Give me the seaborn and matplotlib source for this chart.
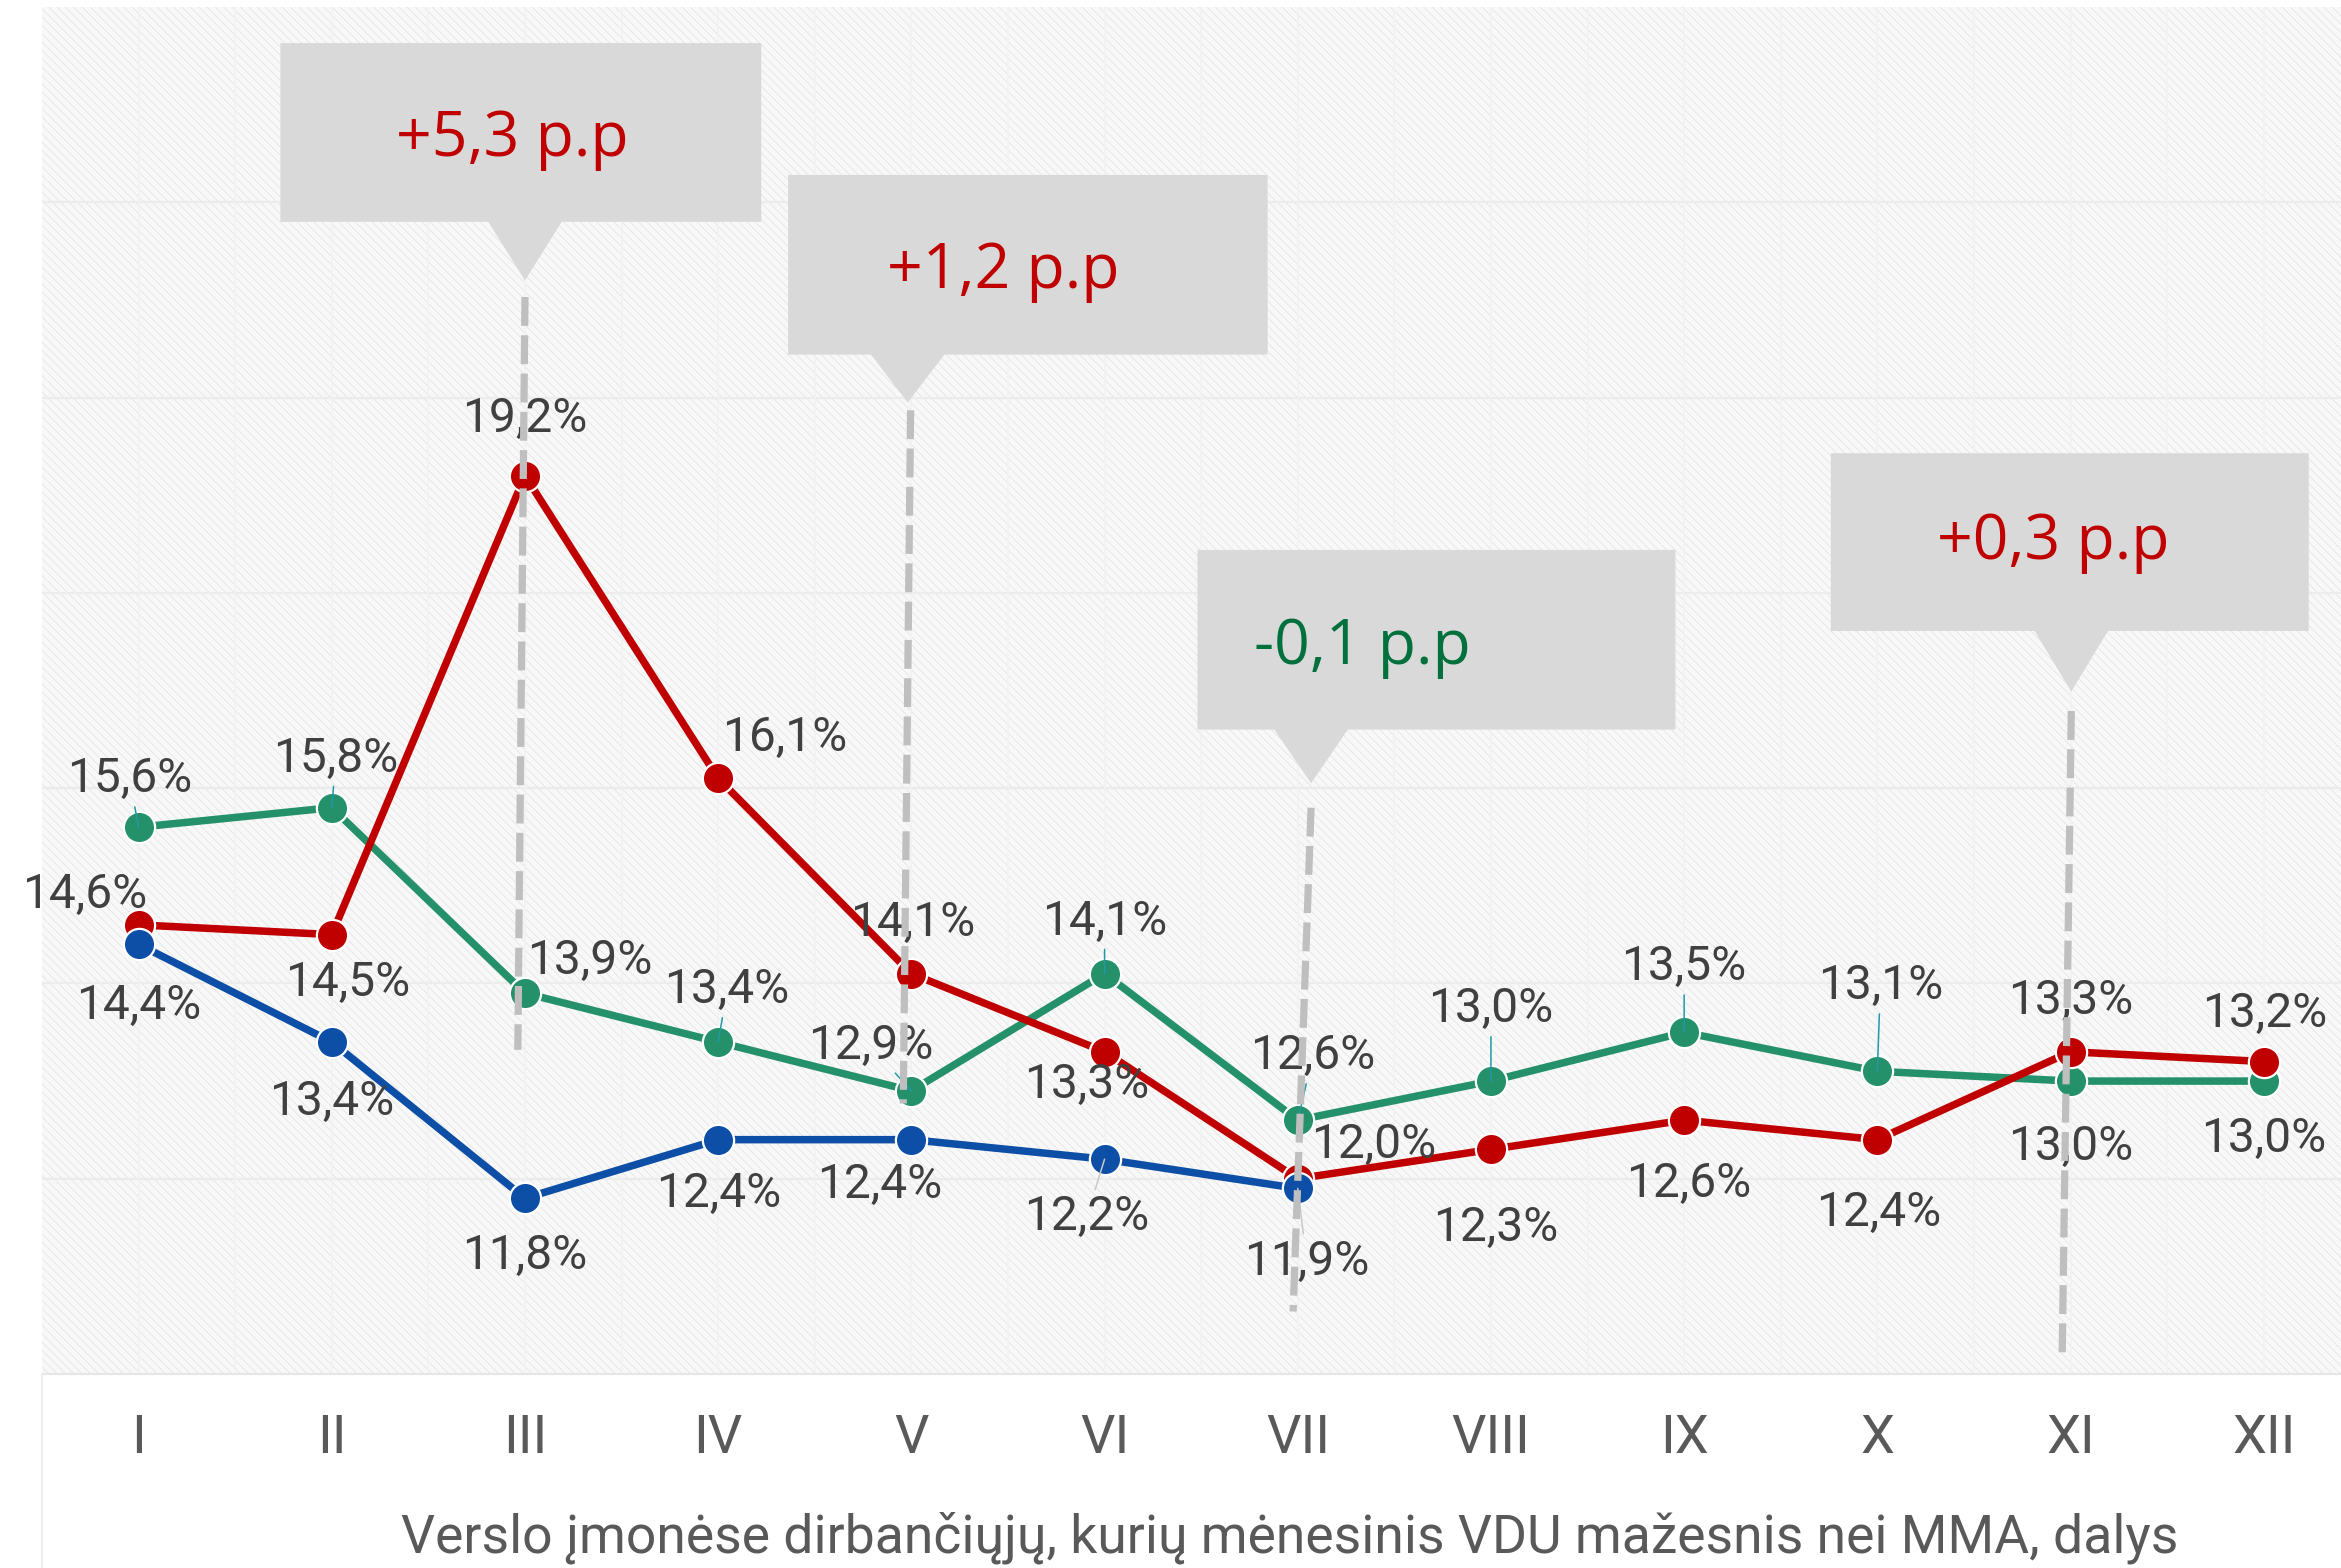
import matplotlib
matplotlib.use("Agg")
import matplotlib.pyplot as plt
import seaborn as sns
import pandas as pd
import numpy as np
from matplotlib.patches import Rectangle, Polygon
from matplotlib.lines import Line2D

# ---------------- data ----------------
months = ["I", "II", "III", "IV", "V", "VI", "VII", "VIII", "IX", "X", "XI", "XII"]
green_vals = [15.6, 15.8, 13.9, 13.4, 12.9, 14.1, 12.6, 13.0, 13.5, 13.1, 13.0, 13.0]
red_vals = [14.6, 14.5, 19.2, 16.1, 14.1, 13.3, 12.0, 12.3, 12.6, 12.4, 13.3, 13.2]
blue_vals = [14.4, 13.4, 11.8, 12.4, 12.4, 12.2, 11.9, np.nan, np.nan, np.nan, np.nan, np.nan]

callout_texts = ["+5,3 p.p", "+1,2 p.p", "-0,1 p.p", "+0,3 p.p"]
xlabel_text = "Verslo įmonėse dirbančiųjų, kurių mėnesinis VDU mažesnis nei MMA, dalys"

# ---------------- style / layout ----------------
W, H = 2341, 1568
GREEN, RED, BLUE = "#25916a", "#c00000", "#0d4ea6"
LABEL_COL = "#404040"
TICK_COL = "#595959"

# label offsets in pixels (dx, dy with dy positive = down)
green_off = [(-9, -48), (4, -49), (65, -32), (9, -52), (-41, -45), (0, -52),
             (15, -64), (0, -72), (0, -65), (3, -85), (0, 66), (0, 58)]
red_off = [(-54, -30), (16, 48), (0, -57), (67, -40), (1, -51), (-18, 33),
           (76, -34), (5, 79), (5, 64), (1, 73), (0, -51), (1, -48)]
blue_off = [(0, 62), (0, 60), (0, 58), (1, 54), (-32, 45), (-18, 58), (9, 73)]
green_leader = [True, True, False, True, True, True, True, True, True, True, False, False]
blue_leader = [False, False, False, False, False, True, True]

# callout geometry (data coords): x0, x1, ytop, ybot, tipx, tipy
callout_geom = [
    (0.734, 3.223, 23.63, 21.80, 2.000, 21.20),
    (3.362, 5.844, 22.28, 20.44, 3.981, 19.95),
    (5.481, 7.955, 18.44, 16.60, 6.069, 16.05),
    (8.759, 11.233, 19.43, 17.61, 10.004, 16.99),
]
callout_textpos = [(1.932, 22.64), (4.476, 21.29), (6.332, 17.44), (9.911, 18.51)]
callout_colors = [RED, RED, "#00703c", RED]
dash_lines = [
    ((2.000, 21.03), (1.963, 13.32)),
    ((3.996, 19.87), (3.958, 12.77)),
    ((6.069, 15.80), (5.976, 10.64)),
    ((10.004, 16.79), (9.957, 10.22)),
]

sns.set_theme(style="white")
plt.rcParams["font.family"] = ["Roboto", "DejaVu Sans"]
plt.rcParams["hatch.linewidth"] = 0.5
plt.rcParams["hatch.color"] = "#e1e1e1"

fig = plt.figure(figsize=(W / 100, H / 100), dpi=100)
fig.patch.set_facecolor("white")
ax_left = 42 / W
ax_bottom = 1 - 1374 / H
ax_top = 1 - 7 / H
ax = fig.add_axes([ax_left, ax_bottom, 1 - ax_left, ax_top - ax_bottom])

# hatched background
ax.set_facecolor("white")
ax.add_patch(Rectangle((0, 0), 1, 1, transform=ax.transAxes, facecolor="#f8f8f8",
                       edgecolor="#e1e1e1", hatch="\\\\\\\\", linewidth=0, zorder=0.1))

# data frame
n = len(months)
df = pd.DataFrame({
    "idx": list(range(n)) * 3,
    "value": green_vals + red_vals + blue_vals,
    "series": ["green"] * n + ["red"] * n + ["blue"] * n,
})
df = df.dropna()

sns.lineplot(data=df, x="idx", y="value", hue="series",
             palette={"green": GREEN, "red": RED, "blue": BLUE},
             hue_order=["green", "red", "blue"],
             marker="o", markersize=22.5, markeredgecolor="white", markeredgewidth=1.6,
             linewidth=5.4, legend=False, sort=False, ax=ax, zorder=3)

ax.grid(False)
for yv in np.arange(12, 24, 2):
    ax.axhline(yv, color="#ececec", lw=1.6, zorder=0.5)
for xv in np.arange(0, 11.5, 0.5):
    ax.axvline(xv, color="#f2f2f2", lw=1.2, zorder=0.5)

ax.set_xticks(range(n))
ax.set_xticklabels(months, fontsize=39, color=TICK_COL)
ax.tick_params(axis="x", length=0, pad=28)
ax.set_yticks([])
ax.set_xlim(-0.5, 11.4)
ax.set_ylim(10, 24)
ax.set_xlabel("")
ax.set_ylabel("")
for s in ["top", "left", "right"]:
    ax.spines[s].set_visible(False)
ax.spines["bottom"].set_color("#e6e6e6")
ax.spines["bottom"].set_linewidth(1.5)

# data labels
def fmt(v):
    return f"{v:.1f}".replace(".", ",") + "%"

def put_labels(vals, offs, leaders, leader_col):
    for i, (v, (dx, dy)) in enumerate(zip(vals, offs)):
        if np.isnan(v):
            continue
        ap = None
        if leaders is not None and leaders[i]:
            ap = dict(arrowstyle="-", color=leader_col, lw=1.1, shrinkA=1, shrinkB=0)
        ax.annotate(fmt(v), xy=(i, v), xytext=(dx, -dy), textcoords="offset pixels",
                    ha="center", va="center", fontsize=34.5, color=LABEL_COL,
                    arrowprops=ap, zorder=4)

put_labels(green_vals, green_off, green_leader, "#1f9aa6")
put_labels(red_vals, red_off, None, None)
put_labels(blue_vals[:7], blue_off, blue_leader, "#c8c8c8")

# callouts
for (x0, x1, yt, yb, tx, ty), txt, (px, py), col in zip(callout_geom, callout_texts,
                                                      callout_textpos, callout_colors):
    hw = 0.19
    verts = [(x0, yt), (x1, yt), (x1, yb), (tx + hw, yb), (tx, ty), (tx - hw, yb), (x0, yb)]
    ax.add_patch(Polygon(verts, closed=True, facecolor="#d9d9d9", edgecolor="none", zorder=5))
    ax.text(px, py, txt, ha="center", va="center", fontsize=45, color=col,
            family=["Open Sans", "DejaVu Sans"], zorder=6)

for (a, b) in dash_lines:
    ax.plot([a[0], b[0]], [a[1], b[1]], color="#bfbfbf", lw=5.2,
            linestyle=(0, (4.0, 1.3)), zorder=7, solid_capstyle="butt")

fig.text(1290 / W, 30 / H, xlabel_text, ha="center", va="center", fontsize=38.5, color=TICK_COL)
fig.add_artist(Line2D([ax_left, ax_left], [0, ax_bottom], color="#eeeeee", lw=1.5))

fig.savefig("out.png", dpi=100, facecolor="white")
